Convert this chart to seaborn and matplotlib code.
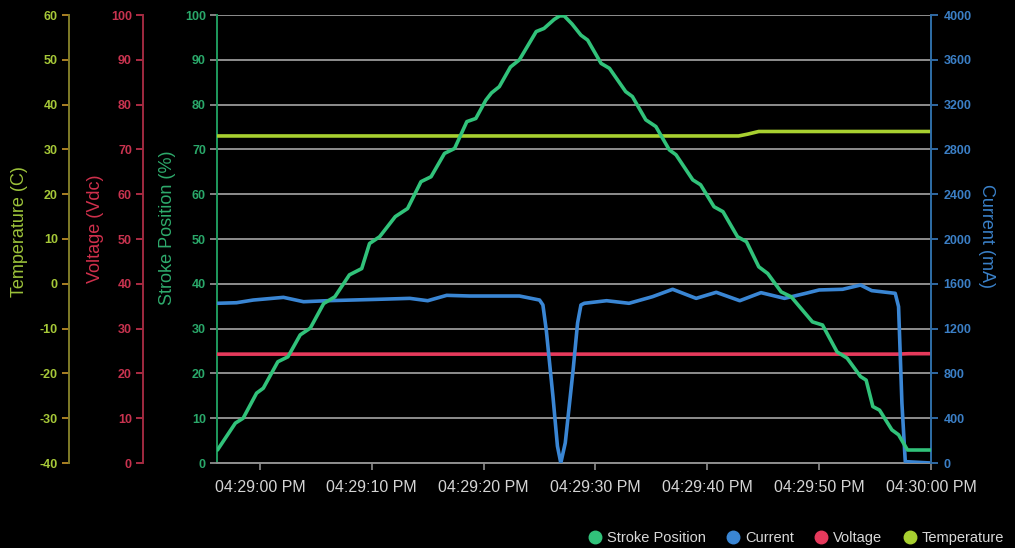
import matplotlib
matplotlib.use("Agg")
import matplotlib.pyplot as plt
import matplotlib.dates as mdates
from matplotlib.lines import Line2D
import numpy as np
import pandas as pd
import seaborn as sns

# ---------------- data (seconds relative to 04:29:00 PM) ----------------
base_time = pd.Timestamp("2020-01-01 16:29:00")

stroke_t = [-3.8, -2.2, -1.5, -0.3, 0.3, 1.6, 2.5, 3.6, 4.5, 5.7, 6.7, 8.0, 9.1, 9.8,
            10.7, 12.1, 13.2, 14.4, 15.3, 16.5, 17.4, 18.5, 19.3, 20.2, 20.7, 21.4,
            22.4, 23.2, 24.7, 25.4, 26.3, 26.8, 27.2, 27.9, 28.7, 29.3, 30.5, 31.25,
            32.7, 33.3, 34.5, 35.4, 36.6, 37.2, 38.7, 39.4, 40.6, 41.4, 42.7, 43.5,
            44.6, 45.4, 46.6, 47.5, 49.4, 50.3, 51.6, 52.5, 53.7, 54.2, 54.8, 55.4,
            56.5, 57.1, 57.9, 60.0]
stroke_pct = [2.9, 8.9, 10.0, 15.6, 16.7, 22.6, 23.7, 28.6, 30.1, 35.6, 37.1, 42.0, 43.4, 49.0,
              50.5, 55.0, 56.8, 62.8, 63.9, 69.1, 70.2, 76.2, 76.9, 81.0, 82.6, 84.0,
              88.4, 90.0, 96.3, 97.0, 99.0, 99.8, 99.8, 98.0, 95.5, 94.4, 89.2, 88.1,
              82.9, 81.8, 76.6, 75.1, 69.9, 68.8, 63.2, 62.1, 57.2, 56.1, 50.5, 49.4,
              43.8, 42.3, 38.2, 37.1, 31.5, 30.8, 24.8, 23.4, 19.3, 18.5, 12.6, 11.8,
              7.4, 6.3, 2.9, 2.9]

current_t = [-3.8, -2.1, -0.6, 2.1, 3.9, 6.0, 10.4, 13.4, 15.0, 16.7, 18.75, 23.2, 25.0,
             25.3, 25.6, 26.2, 26.6, 26.9, 27.3, 28.0, 28.4, 28.7, 29.0, 31.0, 33.0, 35.1,
             36.9, 39.0, 40.8, 42.9, 44.8, 46.9, 48.8, 50.0, 52.1, 53.7, 54.7, 56.8,
             57.1, 57.4, 57.7, 60.0]
current_ma = [1426, 1431, 1455, 1479, 1440, 1449, 1461, 1470, 1449, 1497, 1491, 1491, 1455,
              1411, 1188, 592, 150, 0, 180, 830, 1250, 1411, 1426, 1449, 1426, 1485,
              1551, 1470, 1524, 1449, 1521, 1470, 1515, 1545, 1551, 1589, 1539, 1515,
              1396, 533, 12, 0]

voltage_t = [-3.8, 57.0, 58.0, 60.0]
voltage_vdc = [24.3, 24.3, 24.4, 24.4]

temp_t = [-3.8, 42.8, 43.6, 44.6, 60.0]
temp_c = [33.0, 33.0, 33.4, 34.0, 34.0]

series_names = ["Stroke Position", "Current", "Voltage", "Temperature"]

# ---------------- style ----------------
sns.set_theme(style="dark")
plt.rcParams["font.family"] = ["Liberation Sans", "DejaVu Sans"]
plt.rcParams["axes.unicode_minus"] = False

C_STROKE = "#31c27a"
C_CURRENT = "#3a86d4"
C_VOLT = "#e63a5c"
C_TEMP = "#a8d030"

W, H = 1015, 548
PX2PT = 72 / 100
fig = plt.figure(figsize=(W / 100, H / 100), dpi=100, facecolor="black")
ax = fig.add_axes([217 / W, 1 - 463 / H, 714 / W, 448 / H])
ax.set_facecolor("black")

ax_temp = ax.twinx()
ax_volt = ax.twinx()
ax_cur = ax.twinx()
ax_line = ax.twinx()   # top layer for the stroke line (same scale as ax)


def ts(sec):
    return base_time + pd.to_timedelta(np.asarray(sec, dtype=float), unit="s")


sns.lineplot(x=ts(temp_t), y=temp_c, ax=ax_temp, color=C_TEMP, linewidth=2.6, legend=False)
sns.lineplot(x=ts(voltage_t), y=voltage_vdc, ax=ax_volt, color=C_VOLT, linewidth=2.6, legend=False)
sns.lineplot(x=ts(current_t), y=current_ma, ax=ax_cur, color=C_CURRENT, linewidth=2.6, legend=False)
sns.lineplot(x=ts(stroke_t), y=stroke_pct, ax=ax_line, color=C_STROKE, linewidth=2.6, legend=False)

xmin = base_time + pd.Timedelta(seconds=-3.84)
xmax = base_time + pd.Timedelta(seconds=60)
for a in (ax, ax_temp, ax_volt, ax_cur, ax_line):
    a.set_xlim(xmin, xmax)
    a.set_xlabel("")
    a.set_ylabel("")
    if a is not ax:
        a.patch.set_visible(False)
    for s in a.spines.values():
        s.set_visible(False)

# ---- main (stroke) axis ----
ax.set_ylim(0, 100)
ax.set_yticks(np.arange(0, 101, 10))
ax.yaxis.grid(True, color="#8e8e8e", linewidth=1.4)
ax.xaxis.grid(False)
ax.spines["left"].set_visible(True)
ax.spines["left"].set_color("#1f9a5e")
ax.spines["left"].set_linewidth(1.4)
ax.spines["bottom"].set_visible(True)
ax.spines["bottom"].set_color("#8e8e8e")
ax.spines["bottom"].set_linewidth(1.4)
ax.tick_params(axis="y", left=True, length=5, width=1.2, color="#9a9a9a",
               labelcolor="#2aa86a", labelsize=9, pad=3)
for lbl in ax.get_yticklabels():
    lbl.set_fontweight("bold")
ax.xaxis.set_major_locator(mdates.SecondLocator(bysecond=[0, 10, 20, 30, 40, 50]))
ax.xaxis.set_major_formatter(mdates.DateFormatter("%I:%M:%S %p"))
ax.tick_params(axis="x", bottom=True, length=5, width=1.2, color="#8e8e8e",
               labelcolor="#d4d4d4", labelsize=11.5, pad=7)

# ---- stroke line layer: hidden axes ----
ax_line.set_ylim(0, 100)
ax_line.axis("off")

# ---- current axis (right) ----
ax_cur.set_ylim(0, 4000)
ax_cur.set_yticks(np.arange(0, 4001, 400))
ax_cur.spines["right"].set_visible(True)
ax_cur.spines["right"].set_color("#2f6ea8")
ax_cur.spines["right"].set_linewidth(1.4)
ax_cur.tick_params(axis="y", right=True, length=5, width=1.2, color="#3a7cc0",
                   labelcolor="#3b7fc6", labelsize=9, pad=4)
ax_cur.tick_params(axis="x", bottom=False, labelbottom=False)

# ---- voltage axis (left, offset 74 px) ----
ax_volt.set_ylim(0, 100)
ax_volt.set_yticks(np.arange(0, 101, 10))
ax_volt.yaxis.set_ticks_position("left")
ax_volt.yaxis.set_label_position("left")
ax_volt.spines["left"].set_visible(True)
ax_volt.spines["left"].set_position(("outward", 74 * PX2PT))
ax_volt.spines["left"].set_color("#a02a40")
ax_volt.spines["left"].set_linewidth(1.4)
ax_volt.tick_params(axis="y", left=True, right=False, labelleft=True, labelright=False,
                    length=5, width=1.2, color="#c8334f", labelcolor="#c8334f",
                    labelsize=9, pad=3)
ax_volt.tick_params(axis="x", bottom=False, labelbottom=False)

# ---- temperature axis (left, offset 148 px) ----
ax_temp.set_ylim(-40, 60)
ax_temp.set_yticks(np.arange(-40, 61, 10))
ax_temp.yaxis.set_ticks_position("left")
ax_temp.yaxis.set_label_position("left")
ax_temp.spines["left"].set_visible(True)
ax_temp.spines["left"].set_position(("outward", 148 * PX2PT))
ax_temp.spines["left"].set_color("#807c28")
ax_temp.spines["left"].set_linewidth(1.4)
ax_temp.tick_params(axis="y", left=True, right=False, labelleft=True, labelright=False,
                    length=5, width=1.2, color="#c8962a", labelcolor="#a6c838",
                    labelsize=9, pad=3)
ax_temp.tick_params(axis="x", bottom=False, labelbottom=False)

for a in (ax_cur, ax_volt, ax_temp):
    for lbl in a.get_yticklabels():
        lbl.set_fontweight("bold")

# ---- axis titles ----
fig.text(20 / W, 1 - 232 / H, "Temperature (C)", rotation=90, ha="center", va="center",
         color="#9cc23a", fontsize=13)
fig.text(95 / W, 1 - 229 / H, "Voltage (Vdc)", rotation=90, ha="center", va="center",
         color="#d0304c", fontsize=13)
fig.text(168 / W, 1 - 228 / H, "Stroke Position (%)", rotation=90, ha="center", va="center",
         color="#2eaa6c", fontsize=13)
fig.text(986 / W, 1 - 236 / H, "Current (mA)", rotation=270, ha="center", va="center",
         color="#3a80c8", fontsize=13)

# ---- legend ----
handles = [Line2D([], [], marker="o", linestyle="", markersize=9, color=c)
           for c in (C_STROKE, C_CURRENT, C_VOLT, C_TEMP)]
leg = fig.legend(handles, series_names, loc="center right", ncol=4,
                 bbox_to_anchor=(1004 / W, 10 / H), frameon=False, fontsize=10.5,
                 handlelength=0.8, handletextpad=0.4, columnspacing=1.5,
                 borderaxespad=0, borderpad=0)
for t in leg.get_texts():
    t.set_color("#d8d8d8")

fig.savefig("out.png", dpi=100, facecolor="black")
